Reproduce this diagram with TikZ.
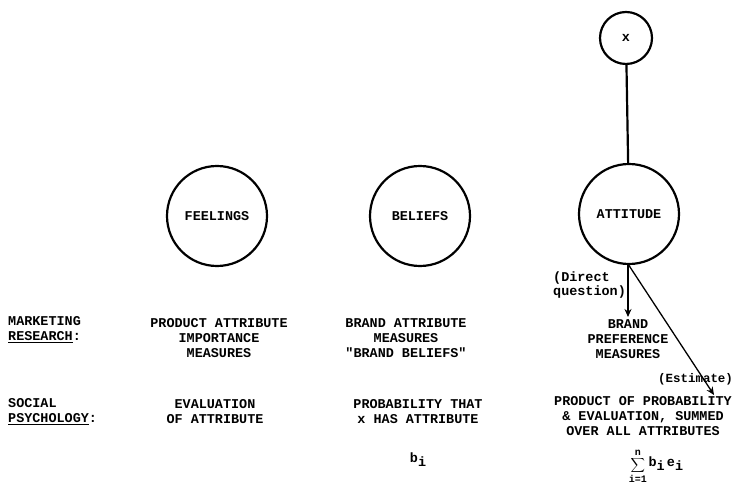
\documentclass[tikz,border=0pt]{standalone}
\usepackage{fontspec}
\newfontfamily\tw{Liberation Mono}
\usetikzlibrary{arrows.meta}
\newcommand{\lowi}{\raisebox{-4bp}{i}}
\begin{document}
\begin{tikzpicture}[x=1bp,y=-1bp,
  tt/.style={font=\tw\bfseries\fontsize{13.5}{15}\selectfont, inner sep=0pt},
  circ/.style={circle, draw, line width=2.2pt, minimum size=100bp, tt},
  arr/.style={line width=1.3pt, -{Stealth[length=8bp,width=7bp]}}]
\useasboundingbox (0,0) rectangle (735,483);
% circles
\node[circ, minimum size=52bp] (x) at (626,38) {x};
\node[circ] (att) at (629,214) {ATTITUDE};
\node[circ] (feel) at (217,216) {FEELINGS};
\node[circ] (bel) at (420,216) {BELIEFS};
\draw[line width=2.2pt] (x) -- (att);
% arrows
\coordinate (a1) at (628,317);
\coordinate (a2) at (714,395);
\coordinate (s) at (628,264);
\draw[arr] (s) -- (a1);
\draw[arr] (s) -- (a2);
% row labels
\node[tt, anchor=west, align=left] (mr) at (8,330) {MARKETING\\\underline{RESEARCH}:};
\node[tt, anchor=west, align=left] (sp) at (8,412) {SOCIAL\\\underline{PSYCHOLOGY}:};
% marketing row
\node[tt, align=center] (m1) at (219,338) {PRODUCT ATTRIBUTE\\IMPORTANCE\\MEASURES};
\node[tt, align=center] (m2) at (406,338) {BRAND ATTRIBUTE\\MEASURES\\"BRAND BELIEFS"};
\node[tt, align=center] (m3) at (628,339) {BRAND\\PREFERENCE\\MEASURES};
\node[tt, anchor=west, align=left] (dq) at (553,285) {(Direct\\question)};
\node[tt, anchor=west, font=\tw\bfseries\fontsize{12.5}{14}\selectfont] (est) at (658,379) {(Estimate)};
% social row
\node[tt, align=center] (s1) at (215,412) {EVALUATION\\OF ATTRIBUTE};
\node[tt, align=center] (s2) at (418,412) {PROBABILITY THAT\\x HAS ATTRIBUTE};
\node[tt, align=center] (s3) at (643,416) {PRODUCT OF PROBABILITY\\\& EVALUATION, SUMMED\\OVER ALL ATTRIBUTES};
% formulas
\node[tt] (bi) at (418,460) {b\lowi};
\node[tt, font=\tw\bfseries\fontsize{10}{12}\selectfont] (sum) at (656,466)
  {$\displaystyle\sum_{\mbox{i=1}}^{\mbox{n}}$\,\raisebox{1bp}{\fontsize{13.5}{15}\selectfont b\lowi\,e\lowi}};
\end{tikzpicture}
\end{document}
